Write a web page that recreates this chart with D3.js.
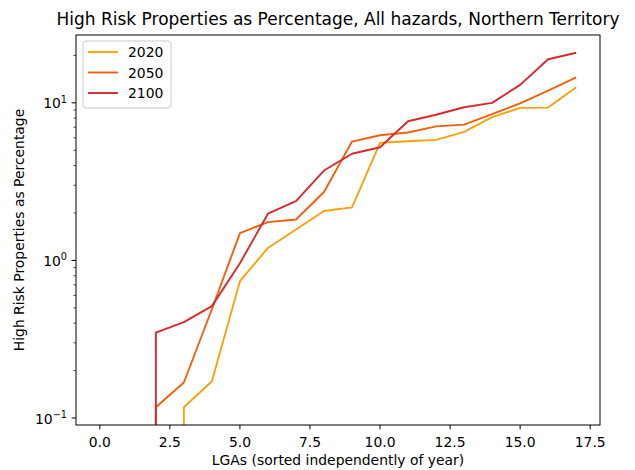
<!DOCTYPE html>
<html>
<head>
<meta charset="utf-8">
<script src="https://cdn.jsdelivr.net/npm/d3@7"></script>
<style>
  body { margin: 0; background: #fff; }
  text { font-family: "DejaVu Sans", sans-serif; fill: #000; }
</style>
</head>
<body>
<svg id="chart" width="635" height="470"></svg>
<script>
// LGA index (sorted independently within each year)
const lgaIndex = d3.range(0, 18);

const years = ["2020", "2050", "2100"];
const colors = ["#f6a20e", "#f0600f", "#d62a2b"];

// High risk properties as percentage, per year (0 = no high-risk properties)
const pct2020 = [0, 0, 0, 0.117, 0.171, 0.739, 1.20, 1.57, 2.06, 2.17, 5.58, 5.71, 5.82, 6.55, 8.11, 9.29, 9.33, 12.56];
const pct2050 = [0, 0, 0.117, 0.168, 0.49, 1.49, 1.75, 1.82, 2.72, 5.68, 6.23, 6.48, 7.09, 7.28, 8.47, 9.94, 11.97, 14.5];
const pct2100 = [0, 0, 0.348, 0.406, 0.513, 0.96, 1.98, 2.38, 3.72, 4.75, 5.23, 7.64, 8.40, 9.38, 10.0, 13.0, 18.9, 20.8];

const seriesValues = [pct2020, pct2050, pct2100];

const xTicks = [0, 2.5, 5, 7.5, 10, 12.5, 15, 17.5];
const yTicks = [0.1, 1, 10];
const yTickExp = ["−1", "0", "1"];

const title = "High Risk Properties as Percentage, All hazards, Northern Territory";
const xLabel = "LGAs (sorted independently of year)";
const yLabel = "High Risk Properties as Percentage";

const margin = { left: 76, right: 35, top: 35, bottom: 45 };
const W = 635, H = 470;
const pw = W - margin.left - margin.right;
const ph = H - margin.top - margin.bottom;
const fs = 13.9;

const svg = d3.select("#chart");
const g = svg.append("g").attr("transform", `translate(${margin.left},${margin.top})`);

// x domain with 5% padding on each side
const xMin = d3.min(lgaIndex), xMax = d3.max(lgaIndex);
const xPad = (xMax - xMin) * 0.05;
const x = d3.scaleLinear().domain([xMin - xPad, xMax + xPad]).range([0, pw]);

// log y domain with 5% padding in log space
const positives = seriesValues.flat().filter(v => v > 0);
const lmin = Math.log10(d3.min(positives)), lmax = Math.log10(d3.max(positives));
const lpad = (lmax - lmin) * 0.05;
const y = d3.scaleLog().domain([Math.pow(10, lmin - lpad), Math.pow(10, lmax + lpad)]).range([ph, 0]);

svg.append("defs").append("clipPath").attr("id", "plotClip")
  .append("rect").attr("width", pw).attr("height", ph);

// lines (non-positive values fall far below the axes, as on a clipped log scale)
const line = d3.line()
  .x((d, i) => x(lgaIndex[i]))
  .y(d => d > 0 ? y(d) : ph + 1e5);

const plot = g.append("g").attr("clip-path", "url(#plotClip)");
seriesValues.forEach((vals, k) => {
  plot.append("path")
    .datum(vals)
    .attr("fill", "none")
    .attr("stroke", colors[k])
    .attr("stroke-width", 1.9)
    .attr("stroke-linejoin", "round")
    .attr("d", line);
});

// x axis
const xAxis = g.append("g").attr("transform", `translate(0,${ph})`);
xTicks.forEach(t => {
  xAxis.append("line").attr("x1", x(t)).attr("x2", x(t)).attr("y1", 0).attr("y2", 4.4)
    .attr("stroke", "#000").attr("stroke-width", 1);
  xAxis.append("text").attr("x", x(t)).attr("y", 21.5).attr("text-anchor", "middle")
    .attr("font-size", fs).text(d3.format(".1f")(t));
});

// y axis: major and minor ticks
const yAxis = g.append("g");
const [d0, d1] = y.domain();
for (let e = Math.floor(Math.log10(d0)); e <= Math.ceil(Math.log10(d1)); e++) {
  for (let m = 2; m <= 9; m++) {
    const v = m * Math.pow(10, e);
    if (v >= d0 && v <= d1) {
      yAxis.append("line").attr("x1", -2.5).attr("x2", 0).attr("y1", y(v)).attr("y2", y(v))
        .attr("stroke", "#000").attr("stroke-width", 0.7);
    }
  }
}
yTicks.forEach((t, i) => {
  yAxis.append("line").attr("x1", -4.4).attr("x2", 0).attr("y1", y(t)).attr("y2", y(t))
    .attr("stroke", "#000").attr("stroke-width", 1);
  const lbl = yAxis.append("text").attr("x", -9).attr("y", y(t) + 5.5).attr("text-anchor", "end")
    .attr("font-size", fs);
  lbl.append("tspan").text("10");
  lbl.append("tspan").attr("dy", -5.5).attr("font-size", 9.7).text(yTickExp[i]);
});

// frame
g.append("rect").attr("width", pw).attr("height", ph)
  .attr("fill", "none").attr("stroke", "#000").attr("stroke-width", 1);

// title and axis labels
svg.append("text").attr("x", margin.left + pw / 2).attr("y", 25).attr("text-anchor", "middle")
  .attr("font-size", 17).text(title);
svg.append("text").attr("x", margin.left + pw / 2).attr("y", 465).attr("text-anchor", "middle")
  .attr("font-size", fs).text(xLabel);
svg.append("text").attr("transform", `translate(24,${margin.top + ph / 2}) rotate(-90)`)
  .attr("text-anchor", "middle").attr("font-size", fs).text(yLabel);

// legend
const lg = g.append("g").attr("transform", "translate(7,6)");
lg.append("rect").attr("width", 88).attr("height", 67).attr("rx", 3)
  .attr("fill", "#fff").attr("fill-opacity", 0.8).attr("stroke", "#cccccc").attr("stroke-width", 1);
years.forEach((yr, k) => {
  const yy = 11 + k * 20.5;
  lg.append("line").attr("x1", 5).attr("x2", 35).attr("y1", yy).attr("y2", yy)
    .attr("stroke", colors[k]).attr("stroke-width", 1.9);
  lg.append("text").attr("x", 45).attr("y", yy + 5).attr("font-size", fs).text(yr);
});
</script>
</body>
</html>
